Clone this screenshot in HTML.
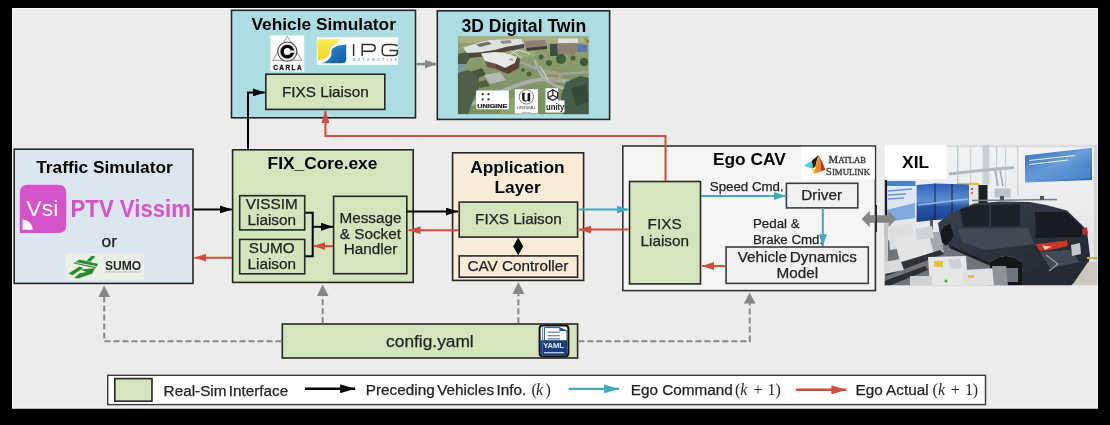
<!DOCTYPE html>
<html><head><meta charset="utf-8">
<style>
html,body{margin:0;padding:0;background:#000;width:1110px;height:425px;overflow:hidden}
svg{display:block;will-change:transform}
svg{font-family:"Liberation Sans",sans-serif}
.t{font-size:17.33px;font-weight:bold;fill:#000}
.n{font-size:15.3px;fill:#222;stroke:#222;stroke-width:0.25px}
.s{font-size:13.3px;fill:#222;stroke:#222;stroke-width:0.25px}
.bx{stroke:#262626;stroke-width:1.6}
</style></head>
<body>
<svg width="1110" height="425" viewBox="0 0 1110 425">
<defs>
<marker id="ak" viewBox="0 0 12 8" refX="12" refY="4" markerWidth="12" markerHeight="8" markerUnits="userSpaceOnUse" orient="auto"><path d="M0,0L12,4L0,8z" fill="#000"/></marker>
<marker id="ar" viewBox="0 0 12 8" refX="12" refY="4" markerWidth="12" markerHeight="8" markerUnits="userSpaceOnUse" orient="auto"><path d="M0,0L12,4L0,8z" fill="#d24b3c"/></marker>
<marker id="at" viewBox="0 0 12 8" refX="12" refY="4" markerWidth="12" markerHeight="8" markerUnits="userSpaceOnUse" orient="auto"><path d="M0,0L12,4L0,8z" fill="#42a9ba"/></marker>
<marker id="ag" viewBox="0 0 12 9" refX="12" refY="4.5" markerWidth="12" markerHeight="9" markerUnits="userSpaceOnUse" orient="auto"><path d="M0,0L12,4.5L0,9z" fill="#878787"/></marker>
<marker id="lk" viewBox="0 0 15 9" refX="15" refY="4.5" markerWidth="15" markerHeight="9" markerUnits="userSpaceOnUse" orient="auto"><path d="M0,0L15,4.5L0,9z" fill="#000"/></marker>
<marker id="lr" viewBox="0 0 15 9" refX="15" refY="4.5" markerWidth="15" markerHeight="9" markerUnits="userSpaceOnUse" orient="auto"><path d="M0,0L15,4.5L0,9z" fill="#d24b3c"/></marker>
<marker id="lt" viewBox="0 0 15 9" refX="15" refY="4.5" markerWidth="15" markerHeight="9" markerUnits="userSpaceOnUse" orient="auto"><path d="M0,0L15,4.5L0,9z" fill="#42a9ba"/></marker>
</defs>
<!-- panel -->
<rect x="12" y="8" width="1086" height="400.5" fill="#ececec"/>
<rect x="12.5" y="8.5" width="1085" height="399.5" fill="none" stroke="#f7f7f7" stroke-width="1"/>

<!-- Vehicle Simulator -->
<rect class="bx" x="231.5" y="10.3" width="184" height="107.5" fill="#abdde3"/>
<text class="t" x="323.7" y="30.2" text-anchor="middle">Vehicle Simulator</text>
<rect x="270.4" y="35.4" width="33.8" height="36" fill="#fff"/>
<g>
<path d="M287.3,36.2L272.8,60.3L301.9,60.3Z" fill="none" stroke="#8a8a8a" stroke-width="0.9"/>
<circle cx="287.3" cy="51.6" r="9.6" fill="#fff" stroke="#444" stroke-width="1.1"/>
<circle cx="287.3" cy="51.6" r="7.4" fill="#fff" stroke="#bdbdbd" stroke-width="0.8"/>
<circle cx="287.3" cy="51.6" r="5.2" fill="none" stroke="#000" stroke-width="3.4"/>
<rect x="290.5" y="50.4" width="3.8" height="2.4" fill="#fff"/>
<text x="288.2" y="70" font-size="6.4" font-weight="bold" fill="#1a1a1a" stroke="#1a1a1a" stroke-width="0.35" text-anchor="middle" letter-spacing="1.5">CARLA</text>
</g>
<rect x="316.8" y="37.2" width="81.3" height="27.6" fill="#fff"/>
<defs>
<linearGradient id="gy" x1="0" y1="0" x2="0" y2="1"><stop offset="0" stop-color="#fbeb57"/><stop offset="1" stop-color="#f1d81c"/></linearGradient>
<linearGradient id="gb" x1="0" y1="0" x2="1" y2="1"><stop offset="0" stop-color="#3a8fd8"/><stop offset="1" stop-color="#0f58a8"/></linearGradient>
</defs>
<path d="M321,39.3L339.8,39.3C337.5,43.5 333.5,45.5 331,47.5C328.5,49.5 331,53 328.5,56C326.5,58.5 322,59.8 318,60.6L317,43.3Q317,39.3 321,39.3Z" fill="url(#gy)"/>
<path d="M346.2,44.6L346.2,59.2Q346.2,63.2 342.2,63.2L321.5,63.2C326,61.8 328.5,60.2 330.5,57.2C333,53.5 329.5,51 333.5,48C336.5,46 341,45 346.2,44.6Z" fill="url(#gb)"/>
<g fill="none" stroke="#2e2e2e" stroke-width="1.5">
<path d="M353.6,44.2L353.6,56"/>
<path d="M362.2,56L362.2,44.6L371,44.6Q375.2,44.6 375.2,47.9Q375.2,51.2 371,51.2L362.2,51.2"/>
<path d="M397.4,46.2Q396.5,44.6 392,44.6L386.5,44.6Q382.3,44.6 382.3,48.5L382.3,52Q382.3,55.6 386.5,55.6L393.5,55.6Q397.4,55.6 397.4,52.5L397.4,50.6L389.5,50.6"/>
</g>
<text x="352.8" y="61.3" font-size="3.2" font-weight="bold" fill="#6f95c9" letter-spacing="2.55">AUTOMOTIVE</text>
<rect class="bx" x="265.8" y="74.2" width="119" height="35.2" fill="#d4e4bc"/>
<text class="n" x="325.3" y="96.5" text-anchor="middle">FIXS Liaison</text>

<!-- 3D Digital Twin -->
<rect class="bx" x="437.3" y="10.8" width="172.3" height="108.6" fill="#abdde3"/>
<text class="t" x="523.8" y="31.8" text-anchor="middle" style="font-size:17.6px">3D Digital Twin</text>
<defs><clipPath id="c3"><rect x="457.8" y="35.9" width="131" height="78.4"/></clipPath>
<linearGradient id="g3" x1="0" y1="0" x2="0" y2="1"><stop offset="0" stop-color="#94a276"/><stop offset="0.5" stop-color="#82966a"/><stop offset="1" stop-color="#77905e"/></linearGradient></defs>
<g clip-path="url(#c3)"><g filter="url(#bl)">
<rect x="457.8" y="35.9" width="131" height="78.4" fill="url(#g3)"/>
<rect x="457.8" y="35.9" width="131" height="7" fill="#a6ae82"/>
<!-- lawn with paths -->
<path d="M500,50L532,46L536,56L505,60Z" fill="#98ad78"/>
<path d="M504,58L518,50L530,54M510,50L522,58" stroke="#d8dcd0" stroke-width="1" fill="none"/>
<!-- roads -->
<path d="M458,110Q490,96 515,86Q535,79 548,79Q565,80 590,86" stroke="#a9afa6" stroke-width="4" fill="none"/>
<path d="M535,60Q538,72 545,79Q552,86 570,90" stroke="#aab0a6" stroke-width="3" fill="none"/>
<path d="M520,62Q530,66 540,70L560,74L590,72" stroke="#9ea69a" stroke-width="2.5" fill="none"/>
<ellipse cx="553" cy="76" rx="7" ry="4" fill="none" stroke="#b59b88" stroke-width="2"/>
<path d="M540,66L548,80" stroke="#d0d4c8" stroke-width="1.2"/>
<!-- upper-left building -->
<path d="M463,47.4L478,43L489,40L506,39.5L521,39L524,44L506,47L495,50L479,52.5L467,53Z" fill="#dfe1df"/>
<path d="M476,44.5L488,41.5L492,44L480,47Z" fill="#6c7070"/>
<path d="M500,41L510,40L512,43L502,44Z" fill="#8a8e8e"/>
<path d="M467,53L479,52.5L495,50L506,47L524,44L524,48L506,51.5L495,54.5L479,57L468,58Z" fill="#4e4640"/>
<!-- top middle buildings -->
<path d="M524,41L545,40L547,46L526,48Z" fill="#8a8078"/>
<path d="M526,48L547,46L547,49L527,51Z" fill="#4a3c34"/>
<!-- top right building -->
<path d="M558,38.5L578,38.5L578,43L558,43.5Z" fill="#e0e0dc"/>
<path d="M556,43.5L577,43L576,54L558,55Z" fill="#8e8070"/>
<path d="M550,44L557,44L558,56L550,56Z" fill="#3e4c44"/>
<path d="M577,44L587,45L587,52L577,52Z" fill="#5a78a8"/>
<circle cx="586" cy="39.5" r="1.6" fill="#5fb04a"/><circle cx="588" cy="41.5" r="1.4" fill="#d04a3a"/>
<!-- center building -->
<path d="M481,53.5L495,52L503,52.5L517,57L515,63L505,68L496,64L485,61Z" fill="#e8e9e6"/>
<path d="M496,64L505,68L515,63L517,57L520,59L519,68L508,74L496,69Z" fill="#5a4236"/>
<path d="M485,61L496,64L496,69L487,67Z" fill="#6b5446"/>
<path d="M508,60L512,58L514,61Z" fill="#9a9c9a"/>
<!-- left water / trees -->
<path d="M457.8,64L464,63L466,70L457.8,73Z" fill="#7d95a0"/>
<path d="M457.8,54L466,52L470,58L466,64L457.8,64Z" fill="#4a5a40"/>
<path d="M457.8,73L468,70L478,75L480,86L474,98L468,114.3L457.8,114.3Z" fill="#4f5e48"/>
<path d="M470,72L482,68L486,75L478,78Z" fill="#46563e"/>
<!-- parking -->
<path d="M484,75L500,72L506,80L490,84Z" fill="#b4bab8"/>
<path d="M478,82L486,80L490,86L480,88Z" fill="#50603f"/>
<!-- trees -->
<circle cx="561" cy="59" r="5" fill="#3f5c37"/>
<circle cx="549" cy="63" r="3" fill="#436040"/>
<circle cx="541" cy="57" r="2.5" fill="#48643e"/>
<circle cx="584" cy="62" r="4" fill="#3c5636"/>
<circle cx="573" cy="58" r="2.5" fill="#46603e"/>
<circle cx="529" cy="74" r="2.5" fill="#48623e"/>
<circle cx="523" cy="70" r="2" fill="#4a643f"/>
<path d="M566,82L580,76L589,78L589,115L563,115L561,96Z" fill="#445c48"/>
<path d="M571,88L586,84L589,102L576,106Z" fill="#34493a"/>
<path d="M500,100L520,96L522,115L500,115Z" fill="#8ca26e"/>
</g></g>

<!-- engine logos -->
<rect x="476.2" y="90.5" width="32.7" height="18.8" fill="#fff"/>
<g fill="#222"><circle cx="482.7" cy="94.2" r="1.1"/><circle cx="488.5" cy="94.2" r="1.1"/><circle cx="482.7" cy="99.3" r="1.1"/><circle cx="488.5" cy="99.3" r="1.1"/></g>
<text x="477.3" y="107.6" font-size="4.8" font-weight="bold" fill="#222" stroke="#222" stroke-width="0.2" textLength="30" lengthAdjust="spacingAndGlyphs">UNIGINE</text>
<rect x="514.8" y="89.2" width="23.1" height="24.2" fill="#fff"/>
<circle cx="526.4" cy="96.9" r="7.2" fill="none" stroke="#444" stroke-width="0.7"/>
<path d="M522.2,92.5L524.6,92.5L524.6,99.2Q524.6,100.6 526,100.6Q527.6,100.6 527.6,99L527.6,93.4L530.2,92.5L530.2,101.4L528.2,101.4L527.9,100.6Q526.8,101.8 525,101.6Q522.2,101.3 522.2,99Z" fill="#1a1a1a"/>
<text x="526.4" y="109.4" font-size="3.2" fill="#444" text-anchor="middle" textLength="20" lengthAdjust="spacingAndGlyphs">UNREAL</text>
<text x="526.4" y="112.6" font-size="2.2" fill="#666" text-anchor="middle">ENGINE</text>
<path d="M545.5,88.3L558,88.3L558,100.5L564.5,100.5L564.5,112.5L545.5,112.5Z" fill="#fff"/>
<g fill="none" stroke="#222" stroke-width="1.2"><path d="M552.8,89.8L557.6,92.5L557.6,97.8L552.8,100.4L548,97.8L548,92.5Z"/><path d="M552.8,95.2L552.8,89.8M552.8,95.2L548,97.8M552.8,95.2L557.6,97.8"/></g>
<text x="546" y="109.6" font-size="8.5" font-weight="bold" fill="#222" textLength="18.4" lengthAdjust="spacingAndGlyphs">unity</text>

<!-- Traffic Simulator -->
<rect class="bx" x="14.2" y="149.2" width="178.8" height="134.2" fill="#dce6f1"/>
<text class="t" x="104.5" y="172.5" text-anchor="middle">Traffic Simulator</text>
<path d="M19.8,192.8Q19.8,184.8 27.8,184.8L58.2,184.8Q66.2,184.8 66.2,192.8L66.2,224.9Q66.2,232.9 58.2,232.9L19.8,232.9Z" fill="#d652cb"/>
<path d="M22.5,229.8L22.5,219.6A10.2,10.2 0 0 1 32.7,229.8Z" fill="#fff"/>
<text x="26.3" y="216.2" font-size="22" fill="#fff" textLength="32" lengthAdjust="spacingAndGlyphs">Vsi</text>
<text x="70.6" y="217" font-size="23" font-weight="bold" fill="#d652cb" textLength="120.3" lengthAdjust="spacingAndGlyphs">PTV Vissim</text>
<text x="109.3" y="246.5" font-size="17.33" fill="#222" stroke="#222" stroke-width="0.25" text-anchor="middle">or</text>
<rect x="65.5" y="253.3" width="78.8" height="26.6" fill="#e9f0e5"/>
<g fill="#2b8a30">
<path d="M86.2,261.2L91.6,255.8L95.4,256.4L90.6,261.4Z"/>
<path d="M73.6,263.4L79.2,259.4L98.2,264L95.6,268.2Z"/>
<path d="M68.6,273.6L79.4,266.4L83,268L72.6,275.2Z"/>
<path d="M74.2,278L79.6,273.2L86.6,272L80.2,269.4L95,268.2L92.4,273.6L78.2,278.4Z"/>
</g>
<path d="M76,262.6L96.5,266.6" stroke="#e9f0e5" stroke-width="0.9"/>
<text x="105" y="269.8" font-size="12" font-weight="bold" fill="#262626" textLength="36.2" lengthAdjust="spacingAndGlyphs">SUMO</text>
<rect x="105.2" y="271.5" width="35.8" height="0.8" fill="#b0b0b0"/>

<!-- FIX_Core -->
<rect class="bx" x="232.6" y="149.8" width="180.6" height="132.6" fill="#d4e4bc"/>
<text class="t" x="322.5" y="168.5" text-anchor="middle">FIX_Core.exe</text>
<rect class="bx" x="239.7" y="195.7" width="65" height="34.2" fill="#d4e4bc"/>
<text class="n" x="271.8" y="209.1" text-anchor="middle">VISSIM</text>
<text class="n" x="271.8" y="225" text-anchor="middle">Liaison</text>
<rect class="bx" x="239.7" y="239.4" width="65" height="34.4" fill="#d4e4bc"/>
<text class="n" x="271.8" y="252.8" text-anchor="middle">SUMO</text>
<text class="n" x="271.8" y="268.9" text-anchor="middle">Liaison</text>
<rect class="bx" x="333.6" y="196.3" width="73.2" height="77.4" fill="#d4e4bc"/>
<text class="n" x="370.5" y="223.1" text-anchor="middle">Message</text>
<text class="n" x="370.4" y="238.5" text-anchor="middle">&amp; Socket</text>
<text class="n" x="370.5" y="254" text-anchor="middle">Handler</text>

<!-- Application Layer -->
<rect class="bx" x="452.6" y="152.8" width="131" height="127.6" fill="#faecd9"/>
<text class="t" x="517.4" y="173.3" text-anchor="middle">Application</text>
<text class="t" x="517.6" y="193.3" text-anchor="middle">Layer</text>
<rect class="bx" x="459.2" y="202.1" width="118.4" height="35" fill="#d4e4bc"/>
<text class="n" x="518.4" y="223.8" text-anchor="middle">FIXS Liaison</text>
<rect class="bx" x="459.2" y="255.9" width="118.4" height="21.3" fill="#faecd9"/>
<text class="n" x="517.9" y="270.6" text-anchor="middle" font-size="15.6">CAV Controller</text>

<!-- Ego CAV -->
<rect class="bx" x="622.8" y="146" width="252.6" height="144.6" fill="#f5f5f4" style="stroke:#333"/>
<text class="t" x="749.3" y="165" text-anchor="middle">Ego CAV</text>
<rect x="801.2" y="146.8" width="73.5" height="32.6" fill="#fff"/>
<g>
<path d="M804.3,165.5Q808,162.2 811.5,161L814,164Q812.5,166.8 811.5,168.6Q807.5,167.4 804.3,165.5Z" fill="#49d0d4"/>
<path d="M811.5,161Q815,158.2 818.6,155Q816.4,160.5 815.4,166.5L812.3,168.7Q813.6,164.2 811.5,161Z" fill="#22100a"/>
<path d="M812.3,168.7L815.2,169.5L813.8,173.7Z" fill="#f6c21c"/>
<path d="M818.6,155Q815.8,163 815.2,169.5Q814.6,172.2 813.8,173.7Q817.8,172.6 820.6,171.4Q821.6,163 818.6,155Z" fill="#f08a1a"/>
<path d="M818.6,155Q822.2,161.5 825.4,169.8Q823,170.6 820.6,171.4Q821.6,163 818.6,155Z" fill="#c92a1c"/>
</g>
<text x="828.6" y="163.2" font-family="Liberation Serif" font-size="10" fill="#333" stroke="#333" stroke-width="0.3" textLength="37.4" lengthAdjust="spacingAndGlyphs">M<tspan font-size="8">ATLAB</tspan></text>
<text x="825.8" y="174.8" font-family="Liberation Serif" font-size="10" fill="#333" stroke="#333" stroke-width="0.3" textLength="44.2" lengthAdjust="spacingAndGlyphs">S<tspan font-size="8">IMULINK</tspan></text>
<rect class="bx" x="629.5" y="181.5" width="71" height="102.4" fill="#d4e4bc"/>
<text class="n" x="664.6" y="229" text-anchor="middle">FIXS</text>
<text class="n" x="664.8" y="245.5" text-anchor="middle">Liaison</text>
<rect class="bx" x="786.4" y="183.3" width="71.4" height="24.6" fill="#f1f1f1" style="stroke:#3c3c3c"/>
<text class="n" x="821.7" y="200.2" text-anchor="middle">Driver</text>
<rect class="bx" x="726.1" y="247" width="142.2" height="36.4" fill="#f1f1f1" style="stroke:#3c3c3c"/>
<text class="n" x="797.3" y="262.3" text-anchor="middle" word-spacing="-1.5">Vehicle Dynamics</text>
<text class="n" x="797.3" y="277.8" text-anchor="middle">Model</text>
<text class="s" x="709.8" y="190.9">Speed Cmd.</text>
<text class="s" x="753" y="227.8">Pedal &amp;</text>
<text class="s" x="753" y="243.9">Brake Cmd.</text>

<!-- XIL photo -->
<defs>
<clipPath id="cx"><rect x="884.5" y="144.5" width="213" height="141"/></clipPath>
<filter id="bl" x="0" y="0" width="1" height="1"><feGaussianBlur stdDeviation="0.5"/></filter>
<linearGradient id="wall" x1="0" y1="0" x2="0" y2="1"><stop offset="0" stop-color="#f2f3f4"/><stop offset="1" stop-color="#dfe1e3"/></linearGradient>
<linearGradient id="ban" x1="0" y1="0" x2="1" y2="1"><stop offset="0" stop-color="#2f6cbc"/><stop offset="0.5" stop-color="#6b9fd9"/><stop offset="1" stop-color="#2462b6"/></linearGradient>
<linearGradient id="mon" x1="0" y1="0" x2="0" y2="1"><stop offset="0" stop-color="#2f5fb8"/><stop offset="0.45" stop-color="#5f8fd0"/><stop offset="0.6" stop-color="#2a56a8"/><stop offset="1" stop-color="#1c3c8a"/></linearGradient>
<linearGradient id="car" x1="0" y1="0" x2="1" y2="1"><stop offset="0" stop-color="#3b4150"/><stop offset="0.6" stop-color="#2a2f3a"/><stop offset="1" stop-color="#23272f"/></linearGradient>
</defs>
<g clip-path="url(#cx)"><g filter="url(#bl)">
<rect x="884.5" y="144.5" width="213" height="141" fill="url(#wall)"/>
<!-- wall structure -->
<rect x="946" y="144.5" width="152" height="3" fill="#dcdee0"/>
<rect x="957" y="147" width="1.5" height="36" fill="#c4c7ca"/>
<rect x="970" y="147" width="1.2" height="36" fill="#cdd0d2"/>
<rect x="982.5" y="144.5" width="7" height="40" fill="#ccd0d3"/>
<rect x="996" y="146" width="1.2" height="40" fill="#c8cbce"/>
<rect x="1005" y="146" width="1.2" height="42" fill="#cfd2d4"/>
<rect x="1017" y="146" width="1.5" height="50" fill="#d2d4d6"/>
<path d="M949,174L985,170L1014,167.5" stroke="#b5b9bd" stroke-width="3" fill="none"/>
<path d="M995,170L998,186M1000,170L1003,186" stroke="#a9adb2" stroke-width="1.6" fill="none"/>
<rect x="994.5" y="188.5" width="16" height="9" fill="#b9c1c9"/>
<rect x="1094" y="144.5" width="4" height="141" fill="#d5d5d2"/>
<!-- banner -->
<path d="M1025,155.6L1092,147.8L1092,180L1025,182.6Z" fill="url(#ban)"/>
<path d="M1029,160.5L1075,155.5M1029,164.5L1068,160" stroke="#e8f0fa" stroke-width="1.1"/>
<path d="M1028,172L1060,166L1090,168L1090,178L1028,181Z" fill="#5b93d6" opacity="0.6"/>
<!-- left poster -->
<rect x="885.5" y="181" width="30" height="42" fill="#dde7f1"/>
<rect x="885.5" y="181" width="30" height="5" fill="#4a82c8"/>
<path d="M888,191L912,189M888,195L906,194M888,199L904,198" stroke="#6795d2" stroke-width="1.3"/>
<path d="M886,210L915,203L915,218L886,222Z" fill="#7faadd"/>
<rect x="884.5" y="180" width="2.6" height="58" fill="#1c1e22"/>
<!-- equipment behind monitors -->
<rect x="956.8" y="182.9" width="22.5" height="2.5" fill="#d6c03c"/>
<rect x="969" y="185" width="9.5" height="20" fill="#e4e4e2"/>
<rect x="971" y="188" width="2" height="2" fill="#d05030"/><rect x="971" y="192" width="2" height="2" fill="#d08030"/>
<rect x="978.5" y="185" width="9" height="20" fill="#1e2024"/>
<!-- monitors -->
<path d="M916.6,185L935,183.5L952,184L969,184.5L969,217L952,219L935,220L916.6,222Z" fill="url(#mon)"/>
<path d="M935,183.5V220M952,184V219" stroke="#0f1c3a" stroke-width="0.9"/>
<path d="M918,205L968,199" stroke="#94b8e6" stroke-width="1.4"/>
<rect x="930" y="220" width="3" height="10" fill="#555a60"/>
<!-- floor under car -->
<path d="M884.5,240L945,244L992,266L992,285.5L884.5,285.5Z" fill="#6f7377"/>
<!-- car body -->
<path d="M938,223L950,214L958,210L974,203.5L1000,201.5L1030,202L1046,205L1067,210.5L1083,226L1087,231L1090,256L1087,272L1071,285.5L1022,285.5L1022,262Q1005,250 990,262L990,266L950,248L940,236Z" fill="url(#car)"/>
<!-- windows -->
<path d="M960,209L975,205L1020,204.5L1020,226L963,227Z" fill="#1f232b"/>
<path d="M990,205V226" stroke="#3c414b" stroke-width="1.5"/>
<path d="M1035,212L1066,212L1083,228L1081,237L1036,238Z" fill="#191c22"/>
<!-- body reflections -->
<path d="M958,229L1028,228L1034,244L985,250L962,242Z" fill="#4c5260" opacity="0.7"/>
<path d="M1040,252L1070,250L1080,262L1050,268Z" fill="#4f5664" opacity="0.7"/>
<path d="M950,247L990,264" stroke="#1a1c20" stroke-width="2"/>
<!-- front wheel arch -->
<path d="M939,240Q940,226 950,224L954,236L946,246Z" fill="#16181c"/>
<!-- roof rack -->
<path d="M972,200.5L1057,199.5" stroke="#7b818a" stroke-width="1.6"/>
<rect x="1000" y="196" width="4" height="4" fill="#555"/><rect x="1040" y="196" width="4" height="4" fill="#555"/>
<!-- tail lights -->
<path d="M1035.5,244.2L1067,240.5L1068,246L1050,250L1040,251Z" fill="#c9352c"/>
<path d="M1042,245.5L1052,246.5L1045,250Z" fill="#ffc4b0"/>
<path d="M1082,229L1087,227L1088,234L1083,235Z" fill="#b52d25"/>
<path d="M1071,245L1080,243L1081,254L1072,256Z" fill="#c4c8cc"/>
<path d="M1046,255L1058,264L1049,271" stroke="#9aa1ab" stroke-width="1.2" fill="none"/>
<!-- rear wheel -->
<path d="M990,285.5L990,262Q1005,250 1022,262L1022,285.5Z" fill="#121418"/>
<rect x="1006" y="268" width="12" height="14" fill="#6f747b"/>
<!-- floor right -->
<path d="M1088,262L1098,262L1098,285.5L1072,285.5Z" fill="#c9c7c0"/>
<rect x="1087" y="257" width="11" height="2" fill="#d1b13a"/>
<!-- left equipment -->
<rect x="884.5" y="222" width="3.5" height="50" fill="#c2c4c6"/>
<path d="M888,226L912,223L915,246L890,250Z" fill="#dcdee0"/>
<path d="M894,238L928,232L936,252L900,262Z" fill="#e2e4e6"/>
<path d="M928,232L940,232L944,252L934,254Z" fill="#a4a9ae"/>
<path d="M915,229L932,226L934,238L917,240Z" fill="#d0d3d6"/>
<path d="M884.5,268L940,250L944,254L886,276Z" fill="#2f3237"/>
<path d="M884.5,281L925,266L928,270L890,285.5L884.5,285.5Z" fill="#2a2d31"/>
<path d="M928,257L966,256L968,285.5L930,285.5Z" fill="#e4e6e8"/>
<rect x="934" y="261" width="9" height="6" fill="#e8c52e"/>
<path d="M948,259L960,258L962,268L950,269Z" fill="#d0d3d6"/>
<path d="M963,270L998,268L1000,285.5L963,285.5Z" fill="#dfe1e3"/>
<rect x="968" y="275" width="6" height="3" fill="#e3c23a"/>
<path d="M992,266L1006,266L1008,285.5L994,285.5Z" fill="#8e9297"/>
<rect x="910" y="276" width="22" height="9.5" fill="#cfd1d3"/>
<circle cx="946" cy="281" r="1.5" fill="#3a9a50"/>
<path d="M884.5,262L900,259L904,270L884.5,274Z" fill="#d8dadc"/>
</g>
<rect x="884.5" y="144.5" width="62" height="34.5" fill="#fff"/>
</g>
<text class="t" x="915.6" y="167.7" text-anchor="middle">XIL</text>

<!-- config -->
<rect class="bx" x="282.3" y="324" width="295.3" height="34" fill="#d4e4bc"/>
<text x="429.9" y="347" font-size="17.33" fill="#222" stroke="#222" stroke-width="0.25" text-anchor="middle">config.yaml</text>
<rect x="539.6" y="325.6" width="28.8" height="30.6" rx="3" fill="#fff" stroke="#111" stroke-width="2"/>
<path d="M544.4,327.6L559.4,327.6L567,331L567,340" fill="none" stroke="#1d55a0" stroke-width="1"/>
<path d="M544.4,327.6L544.4,340" stroke="#1d55a0" stroke-width="1"/>
<path d="M559.4,327.6L559.4,331L567,331Z" fill="#1d55a0"/>
<g stroke="#6d90c4" stroke-width="1.4"><path d="M547.6,332.2H560"/><path d="M547.6,335.6H560"/><path d="M547.6,338.8H560"/></g>
<rect x="540.2" y="340.2" width="27.2" height="15" fill="#183f7c"/>
<text x="553.6" y="348.3" font-size="7.6" font-weight="bold" fill="#e6eef8" text-anchor="middle">YAML</text>
<rect x="544" y="352.2" width="20" height="1.1" fill="#dfe8f4"/>
<path d="M542.5,327L542.5,356" stroke="#3d6bb0" stroke-width="0.8"/>

<!-- Legend -->
<rect x="107.7" y="375.3" width="877.8" height="29.3" fill="#fff" stroke="#3a3a3a" stroke-width="1.4"/>
<rect class="bx" x="114.8" y="378.6" width="37.2" height="22.6" fill="#d4e4bc"/>
<text class="n" x="163.6" y="395.6" font-size="15" word-spacing="-2">Real-Sim Interface</text>
<line x1="305" y1="388.7" x2="355.2" y2="388.7" stroke="#000" stroke-width="2.4" marker-end="url(#lk)"/>
<text class="n" x="365.8" y="395.2" font-size="15" word-spacing="-1.8">Preceding Vehicles Info.</text>
<g font-family="Liberation Serif" font-size="16" fill="#262626">
<text x="531.6" y="395.3">(</text><text x="536" y="395.3" font-style="italic">k</text><text x="545.6" y="395.3">)</text>
</g>
<line x1="568.7" y1="388.9" x2="619" y2="388.9" stroke="#42a9ba" stroke-width="2.4" marker-end="url(#lt)"/>
<text class="n" x="630.7" y="395.2" font-size="15">Ego Command</text>
<g font-family="Liberation Serif" font-size="16" fill="#262626">
<text x="735" y="395.3">(</text><text x="740.3" y="395.3" font-style="italic">k</text><text x="753.4" y="395.3">+</text><text x="767.6" y="395.3">1</text><text x="775.6" y="395.3">)</text>
</g>
<line x1="795.9" y1="389.8" x2="846.4" y2="389.8" stroke="#d24b3c" stroke-width="2.4" marker-end="url(#lr)"/>
<text class="n" x="855.5" y="395.2" font-size="15">Ego Actual</text>
<g font-family="Liberation Serif" font-size="16" fill="#262626">
<text x="932.6" y="395.3">(</text><text x="938" y="395.3" font-style="italic">k</text><text x="950.7" y="395.3">+</text><text x="965" y="395.3">1</text><text x="972.7" y="395.3">)</text>
</g>
<!-- arrows -->
<g fill="none" stroke-width="2">
<line x1="193.7" y1="209.4" x2="232" y2="209.4" stroke="#000" marker-end="url(#ak)"/>
<line x1="232" y1="257.7" x2="194.4" y2="257.7" stroke="#d24b3c" marker-end="url(#ar)"/>
<polyline points="305.4,212.7 312.7,212.7 312.7,256.2 305.4,256.2" stroke="#000"/>
<line x1="312.7" y1="226.8" x2="333" y2="226.8" stroke="#000" marker-end="url(#ak)"/>
<line x1="333" y1="246.1" x2="313.4" y2="246.1" stroke="#d24b3c" marker-end="url(#ar)"/>
<line x1="407" y1="211.6" x2="458" y2="211.6" stroke="#000" marker-end="url(#ak)"/>
<line x1="458" y1="230.2" x2="408.5" y2="230.2" stroke="#d24b3c" marker-end="url(#ar)"/>
<line x1="578" y1="209.5" x2="628.7" y2="209.5" stroke="#42a9ba" marker-end="url(#at)"/>
<line x1="628.7" y1="229.6" x2="579" y2="229.6" stroke="#d24b3c" marker-end="url(#ar)"/>
<line x1="701" y1="196" x2="785.9" y2="196" stroke="#42a9ba" marker-end="url(#at)"/>
<line x1="822.8" y1="208" x2="822.8" y2="246.2" stroke="#42a9ba" marker-end="url(#at)"/>
<line x1="725.5" y1="266" x2="702" y2="266" stroke="#d24b3c" marker-end="url(#ar)"/>
<polyline points="248,149 248,92.4 264.7,92.4" stroke="#000" marker-end="url(#ak)"/>
<polyline points="665.5,180.7 665.5,136 325.4,136 325.4,110.9" stroke="#d24b3c" marker-end="url(#ar)"/>
<line x1="416" y1="64.1" x2="436.5" y2="64.1" stroke="#878787" stroke-width="2.5" marker-end="url(#ag)"/>
</g>
<!-- dashed -->
<g fill="none" stroke="#878787" stroke-width="2" stroke-dasharray="6,3">
<polyline points="281.5,341.3 104.2,341.3 104.2,296"/>
<line x1="322.7" y1="323.2" x2="322.7" y2="295"/>
<line x1="518.4" y1="323.2" x2="518.4" y2="294"/>
<polyline points="578.4,341.3 749.7,341.3 749.7,303"/>
</g>
<g fill="#878787">
<path d="M104.2,285.6L110,297L98.4,297z"/>
<path d="M322.7,284.5L328.5,296L316.9,296z"/>
<path d="M518.4,282.1L524.3,294.1L512.5,294.1z"/>
<path d="M749.7,292.4L755.5,303.5L743.9,303.5z"/>
</g>
<!-- double gray arrow -->
<path d="M861.6,219L869.8,210.7L869.8,215.2L888.5,215.2L888.5,210.9L896.5,219L888.5,227.1L888.5,222.8L869.8,222.8L869.8,227.3Z" fill="#858585"/>
<line x1="876.2" y1="205" x2="876.2" y2="232" stroke="#2a2a2a" stroke-width="1.6"/>
<!-- diamond -->
<path d="M518.2,237.6L523.2,246.5L518.2,255.3L513.2,246.5z" fill="#000"/>
</svg>
</body></html>
